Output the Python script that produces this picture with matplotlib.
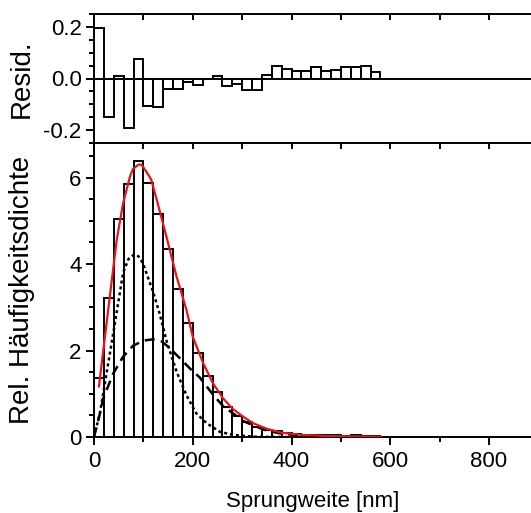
import matplotlib
matplotlib.use("Agg")
import matplotlib.pyplot as plt
import numpy as np
from matplotlib.ticker import MultipleLocator

plt.rcParams['font.family'] = ['Liberation Sans', 'DejaVu Sans']

bin_width = 20
bin_left = [0, 20, 40, 60, 80, 100, 120, 140, 160, 180, 200, 220, 240, 260, 280,
            300, 320, 340, 360, 380, 400, 420, 440, 460, 480, 500, 520, 540, 560]
hist_vals = [1.37, 3.22, 5.05, 5.85, 6.38, 5.87, 5.16, 4.35, 3.42, 2.63, 1.94, 1.42,
             1.03, 0.70, 0.49, 0.34, 0.23, 0.155, 0.145, 0.10, 0.07, 0.05, 0.045,
             0.04, 0.035, 0.03, 0.035, 0.03, 0.02]
resid_vals = [0.195, -0.149, 0.009, -0.19, 0.077, -0.105, -0.11, -0.04, -0.039,
              -0.015, -0.026, -0.003, 0.008, -0.029, -0.021, -0.043, -0.043, 0.012,
              0.05, 0.037, 0.029, 0.029, 0.044, 0.028, 0.034, 0.044, 0.044, 0.049, 0.027]

dotted_x = [0, 12, 22, 39, 59, 70, 81, 90, 99, 119, 133, 147, 167, 187, 207, 228, 255, 281, 320, 360, 580]
dotted_y = [0.0, 0.55, 1.24, 2.4, 3.8, 4.12, 4.22, 4.18, 4.02, 3.38, 2.85, 2.22, 1.52, 0.97, 0.55, 0.32, 0.12, 0.05, 0.01, 0.0, 0.0]

dashed_x = [0, 10, 19, 39, 59, 79, 100, 120, 137, 150, 160, 200, 214, 241, 261, 281, 302, 322, 349, 376, 402, 450, 500, 580]
dashed_y = [0.0, 0.45, 0.9, 1.47, 1.86, 2.11, 2.23, 2.26, 2.21, 2.09, 1.98, 1.52, 1.38, 0.98, 0.72, 0.55, 0.37, 0.27, 0.15, 0.085, 0.05, 0.02, 0.007, 0.0]

red_x = [10, 32, 46, 59, 73, 79, 90, 96, 106, 116, 127, 147, 167, 187, 200, 221, 241, 261, 281, 302, 322, 350, 380, 420, 480, 580]
red_y = [1.17, 3.25, 4.56, 5.41, 6.03, 6.2, 6.3, 6.3, 6.14, 5.95, 5.49, 4.62, 3.72, 2.95, 2.32, 1.71, 1.24, 0.9, 0.65, 0.47, 0.32, 0.19, 0.1, 0.05, 0.02, 0.005]

W, H = 531, 513
fig = plt.figure(figsize=(W / 100, H / 100), dpi=100)
left = 94 / W
width = (W - 94) / W
ax_top = fig.add_axes([left, (H - 143) / H, width, (143 - 14) / H])
ax_bot = fig.add_axes([left, (H - 437) / H, width, (437 - 143) / H], sharex=ax_top)

lw = 1.4
# residuals
ax_top.bar(bin_left, resid_vals, width=bin_width, align='edge', facecolor='white',
           edgecolor='black', linewidth=lw, zorder=3)
ax_top.axhline(0, color='black', linewidth=lw, zorder=4)
ax_top.set_ylim(-0.25, 0.25)
ax_top.set_xlim(0, 885)
ax_top.yaxis.set_minor_locator(MultipleLocator(0.05))
ax_top.set_yticks([-0.2, 0.0, 0.2])
ax_top.set_yticklabels(['-0.2', '0.0', '0.2'])
ax_top.xaxis.set_major_locator(MultipleLocator(100))
ax_top.tick_params(axis='x', which='both', bottom=False, top=True, direction='in',
                   labelbottom=False, labeltop=False, length=4, width=lw)
ax_top.tick_params(axis='y', which='major', direction='out', length=6, width=lw,
                   labelsize=16, pad=3)
ax_top.tick_params(axis='y', which='minor', direction='out', length=3.5, width=lw)
ax_top.set_ylabel('Resid.', fontsize=20)
ax_top.yaxis.set_label_coords(-0.135, 0.5)

# histogram
ax_bot.bar(bin_left, hist_vals, width=bin_width, align='edge', facecolor='white',
           edgecolor='black', linewidth=lw, zorder=2)
ax_bot.plot(dotted_x, dotted_y, color='black', linestyle=(0, (1.2, 1.2)), linewidth=1.8, zorder=4)
ax_bot.plot(dashed_x, dashed_y, color='black', linestyle=(0, (4, 2.5)), linewidth=1.8, zorder=4)
ax_bot.plot(red_x, red_y, color='#e8141a', linewidth=1.6, zorder=5)
ax_bot.set_ylim(0, 6.8)
ax_bot.set_xlim(0, 885)
ax_bot.set_xticks([0, 200, 400, 600, 800])
ax_bot.xaxis.set_minor_locator(MultipleLocator(100))
ax_bot.set_yticks([0, 2, 4, 6])
ax_bot.yaxis.set_minor_locator(MultipleLocator(0.5))
ax_bot.tick_params(axis='x', which='major', direction='out', length=6, width=lw,
                   labelsize=16, pad=4, bottom=True, top=False)
ax_bot.tick_params(axis='x', which='minor', direction='out', length=3.5, width=lw,
                   bottom=True, top=False)
ax_bot.tick_params(axis='y', which='major', direction='out', length=6, width=lw,
                   labelsize=16, pad=3)
ax_bot.tick_params(axis='y', which='minor', direction='out', length=3.5, width=lw)
ax_bot.set_ylabel('Rel. Häufigkeitsdichte', fontsize=20)
ax_bot.yaxis.set_label_coords(-0.135, 0.5)
ax_bot.set_xlabel('Sprungweite [nm]', fontsize=16, labelpad=14)

# inward ticks on the shared boundary
sec = ax_bot.secondary_xaxis('top')
sec.xaxis.set_major_locator(MultipleLocator(100))
sec.tick_params(direction='in', length=4, width=lw, labeltop=False)
sec.spines['top'].set_visible(False)

for ax in (ax_top, ax_bot):
    ax.spines['right'].set_visible(False)
    for s in ('left', 'top', 'bottom'):
        ax.spines[s].set_linewidth(lw)
ax_top.spines['bottom'].set_visible(False)

fig.savefig('out.png', dpi=100)
